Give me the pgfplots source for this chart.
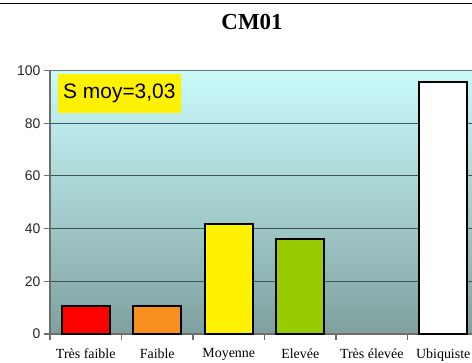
\documentclass[border=0pt]{standalone}
\usepackage{pgfplots}
\pgfplotsset{compat=1.18}
\usepackage{fontspec}
\setmainfont{Liberation Serif}
\newfontfamily\arial{Liberation Sans}
\definecolor{bgtop}{RGB}{202,250,250}
\definecolor{bgmid}{RGB}{166,208,208}
\definecolor{bgbot}{RGB}{126,160,158}
\definecolor{gridc}{RGB}{60,85,85}
\definecolor{axc}{RGB}{110,110,110}
\definecolor{orangeb}{RGB}{247,144,30}
\definecolor{greenb}{RGB}{153,204,0}
\begin{document}
\begin{tikzpicture}
\useasboundingbox (0bp,0bp) rectangle (472bp,363bp);
\clip (0bp,0bp) rectangle (472bp,363bp);
\fill[white] (0bp,0bp) rectangle (472bp,363bp);
\begin{axis}[
  scale only axis,
  width=429bp, height=263.5bp,
  at={(50bp,29bp)}, anchor=south west,
  xmin=-0.5, xmax=5.5, ymin=0, ymax=100,
  axis background/.style={top color=bgtop, bottom color=bgbot, middle color=bgmid},
  axis line style={axc, line width=1.1bp},
  ymajorgrids, grid style={gridc, line width=0.8bp},
  ytick={0,20,40,60,80,100},
  xtick={0,1,2,3,4,5},
  xticklabels={Très faible, Faible, Moyenne, Elevée, Très élevée, Ubiquiste},
  minor xtick={-0.5,0.5,1.5,2.5,3.5,4.5,5.5},
  major x tick style={draw=none},
  tick align=outside,
  tick style={axc, line width=1.1bp},
  major tick length=6bp, minor tick length=6bp,
  xtick pos=bottom, ytick pos=left,
  /pgf/number format/assume math mode=true,
  yticklabel style={font=\arial\fontsize{14}{16}\selectfont, text=black!85},
  xticklabel style={font=\fontsize{14}{16}\selectfont, yshift=-5bp},
  ybar, bar width=48bp, bar shift=0pt,
  clip=false,
]
\addplot[fill=red, draw=black, line width=2bp] coordinates {(0,10.7)};
\addplot[fill=orangeb, draw=black, line width=2bp] coordinates {(1,10.7)};
\addplot[fill=yellow, draw=black, line width=2bp] coordinates {(2,41.7)};
\addplot[fill=greenb, draw=black, line width=2bp] coordinates {(3,35.9)};
\addplot[fill=none, draw=none] coordinates {(4,0)};
\addplot[fill=white, draw=black, line width=2bp] coordinates {(5,95.5)};
\node[fill=yellow, inner sep=0pt, minimum width=123bp, minimum height=39bp,
  font=\arial\fontsize{21}{24}\selectfont] at (axis cs:0.47,91.2) {S moy=3,03};
\end{axis}
\node at (252bp,341bp) {\fontsize{23}{26}\selectfont\bfseries CM01};
\draw[line width=1.3bp] (0bp,359.5bp) -- (472bp,359.5bp);
\end{tikzpicture}
\end{document}
